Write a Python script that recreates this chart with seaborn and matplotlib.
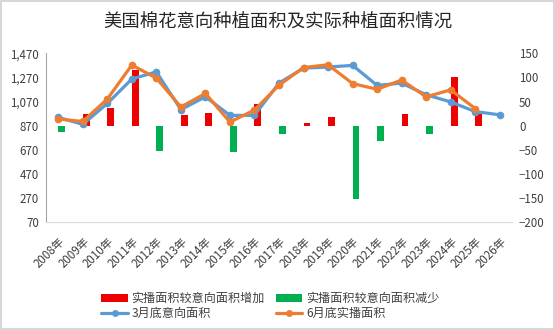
import matplotlib
matplotlib.use("Agg")
import matplotlib.pyplot as plt
from matplotlib.patches import Patch, Rectangle
from matplotlib.lines import Line2D
from matplotlib.ticker import FuncFormatter
import pandas as pd
import seaborn as sns

# US cotton acreage (10k acres): March intentions vs June actual plantings
years = ["2008年", "2009年", "2010年", "2011年", "2012年", "2013年", "2014年",
         "2015年", "2016年", "2017年", "2018年", "2019年", "2020年", "2021年",
         "2022年", "2023年", "2024年", "2025年", "2026年"]
intent = [939, 881, 1054, 1257, 1316, 1003, 1110, 955, 956, 1223, 1347, 1356,
          1370, 1204, 1223, 1126, 1067, 987, 960]
actual = [925, 905, 1091, 1373, 1264, 1025, 1137, 900, 1000, 1206, 1352, 1375,
          1219, 1172, 1248, 1109, 1167, 1012]
change = [-14, 24, 37, 116, -52, 22, 27, -55, 44, -17, 5, 19, -151, -32, 25,
          -17, 100, 25]
left_ticks = [70, 270, 470, 670, 870, 1070, 1270, 1470]
right_ticks = [-200, -150, -100, -50, 0, 50, 100, 150]

RED = "#EE0000"
GREEN = "#00B050"
BLUE = "#5B9BD5"
ORANGE = "#ED7D31"
TXT = "#404040"

sns.set_theme(style="white")
plt.rcParams["font.family"] = ["Noto Sans CJK SC", "DejaVu Sans"]

fig = plt.figure(figsize=(5.55, 3.30), dpi=100)
ax = fig.add_axes([46 / 555, 1 - 222.2 / 330, (512 - 46) / 555, (222.2 - 53.3) / 330])
axr = ax.twinx()

# bars: actual minus intention, on the right axis
bar_df = pd.DataFrame({
    "x": [i + 0.14 for i in range(len(change))],
    "v": change,
    "kind": ["up" if v >= 0 else "down" for v in change],
})
sns.barplot(data=bar_df, x="x", y="v", hue="kind",
            palette={"up": RED, "down": GREEN}, native_scale=True,
            dodge=False, width=0.28, legend=False, ax=axr, linewidth=0,
            saturation=1)

# lines on the left axis
line_i = pd.DataFrame({"x": list(range(len(intent))), "v": intent})
line_a = pd.DataFrame({"x": list(range(len(actual))), "v": actual})
sns.lineplot(data=line_i, x="x", y="v", color=BLUE, lw=2.3, marker="o",
             markersize=5.5, markeredgewidth=0, ax=ax)
sns.lineplot(data=line_a, x="x", y="v", color=ORANGE, lw=2.3, marker="o",
             markersize=5.5, markeredgewidth=0, ax=ax)

ax.set_zorder(axr.get_zorder() + 1)
ax.patch.set_visible(False)

ax.set_xlim(-0.5, len(years) - 0.5)
ax.set_ylim(left_ticks[0], left_ticks[-1])
ax.set_yticks(left_ticks)
ax.yaxis.set_major_formatter(FuncFormatter(lambda v, p: f"{int(round(v)):,}"))
axr.set_ylim(right_ticks[0], right_ticks[-1])
axr.set_yticks(right_ticks)
axr.set_xlim(-0.5, len(years) - 0.5)

ax.set_xticks(range(len(years)))
ax.set_xticklabels(years, rotation=45, ha="right", rotation_mode="anchor")
ax.set_xlabel("")
ax.set_ylabel("")
axr.set_xlabel("")
axr.set_ylabel("")

ax.tick_params(axis="x", length=0, pad=9, labelsize=8.3, labelcolor=TXT)
ax.tick_params(axis="y", length=0, pad=5, labelsize=8.3, labelcolor=TXT)
axr.tick_params(axis="y", length=0, pad=5, labelsize=8.3, labelcolor=TXT)
axr.tick_params(axis="x", length=0, labelbottom=False)

for a in (ax, axr):
    for s in ("top", "right"):
        a.spines[s].set_visible(False)
    a.spines["left"].set_visible(a is ax)
    a.spines["bottom"].set_visible(a is ax)
ax.spines["left"].set_color("#A6A6A6")
ax.spines["bottom"].set_color("#D9D9D9")
ax.spines["left"].set_linewidth(0.8)
ax.spines["bottom"].set_linewidth(0.8)

fig.text(0.5, 1 - 23 / 330, "美国棉花意向种植面积及实际种植面积情况",
         ha="center", va="center", fontsize=13.2, color="#262626")

handles = [
    Patch(facecolor=RED, edgecolor="none"),
    Line2D([0], [0], color=BLUE, lw=2.3, marker="o", markersize=5, markeredgewidth=0),
    Patch(facecolor=GREEN, edgecolor="none"),
    Line2D([0], [0], color=ORANGE, lw=2.3, marker="o", markersize=5, markeredgewidth=0),
]
labels = ["实播面积较意向面积增加", "3月底意向面积", "实播面积较意向面积减少", "6月底实播面积"]
fig.legend(handles, labels, ncol=2, loc="center", bbox_to_anchor=(0.487, 0.073),
           frameon=False, fontsize=8.7, handlelength=2.2, handleheight=0.6,
           handletextpad=0.3, columnspacing=0.9, labelspacing=0.15,
           labelcolor=TXT)

# light frame around the whole chart
fig.patches.append(Rectangle((0.002, 0.003), 0.996, 0.994, transform=fig.transFigure,
                             fill=False, edgecolor="#D0D0D0", lw=1.2))

fig.savefig("out.png", dpi=100)
